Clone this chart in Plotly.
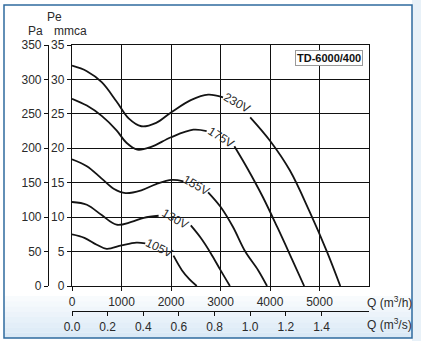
import plotly.graph_objects as go

W, H = 421, 341

# Fan curves: airflow Q (m3/h) vs static pressure Pe (mmca); None marks the gap under each label
Q_230 = [0, 300, 600, 900, 1150, 1400, 1700, 2000, 2400, 2750, 3050, None, 3600, 4000, 4400, 4800, 5150, 5420]
P_230 = [32.0, 31.2, 29.6, 26.8, 24.3, 23.2, 23.7, 25.2, 27.0, 27.8, 27.4, None, 24.5, 21.1, 16.8, 10.8, 5.0, 0]

Q_175 = [0, 300, 600, 900, 1100, 1320, 1600, 2000, 2450, 2720, None, 3280, 3550, 3850, 4150, 4450, 4690]
P_175 = [27.2, 26.2, 24.7, 22.6, 20.8, 19.8, 20.2, 21.6, 22.7, 22.5, None, 20.3, 17.0, 13.0, 8.5, 3.8, 0]

Q_155 = [0, 300, 600, 850, 1080, 1400, 1700, 2020, 2250, None, 2750, 3000, 3250, 3500, 3760, 3940]
P_155 = [18.4, 17.4, 15.6, 14.1, 13.5, 13.9, 14.8, 15.4, 15.2, None, 13.6, 11.5, 8.6, 5.0, 2.3, 0]

Q_130 = [0, 300, 600, 900, 1200, 1450, 1750, None, 2400, 2600, 2800, 3000, 3190]
P_130 = [12.2, 11.8, 10.3, 8.9, 9.3, 9.9, 10.2, None, 8.8, 7.0, 4.8, 2.3, 0]

Q_105 = [0, 250, 500, 700, 1000, 1300, 1480, None, 2050, 2220, 2370, 2520]
P_105 = [7.5, 7.0, 6.0, 5.4, 5.9, 6.3, 6.2, None, 4.4, 2.3, 1.0, 0]

CURVES = [("230V", Q_230, P_230), ("175V", Q_175, P_175), ("155V", Q_155, P_155),
          ("130V", Q_130, P_130), ("105V", Q_105, P_105)]

# Curve labels: (text, Q, Pe, angle)
LABELS = [("230V", 3340, 26.6, 29), ("175V", 3000, 21.6, 32), ("155V", 2500, 14.6, 30),
          ("130V", 2090, 9.7, 30), ("105V", 1760, 5.5, 26)]

Q_TICKS = [0, 1000, 2000, 3000, 4000, 5000]
QS_TICKS = [0.0, 0.2, 0.4, 0.6, 0.8, 1.0, 1.2, 1.4]
MMCA_TICKS = [0, 5, 10, 15, 20, 25, 30, 35]
PA_TICKS = [0, 50, 100, 150, 200, 250, 300, 350]

MODEL = "TD-6000/400"

FONT = "Liberation Sans, Arial, sans-serif"
TXT = "#2a2a2a"


def fx(p):
    return p / W


def fy(p):
    return 1 - p / H


fig = go.Figure()

for name, q, p in CURVES:
    fig.add_trace(go.Scatter(
        x=q, y=p, mode="lines", name=name, connectgaps=False,
        line=dict(color="#141414", width=1.8, shape="spline", smoothing=1.0),
        showlegend=False, hoverinfo="skip"))

# helper trace so the secondary axes are drawn
fig.add_trace(go.Scatter(x=[0], y=[0], xaxis="x2", yaxis="y2", mode="markers",
                         marker=dict(opacity=0), showlegend=False, hoverinfo="skip"))

xdom = [fx(72), fx(369)]
ydom = [fy(286), fy(45)]

axis_font = dict(family=FONT, size=12, color=TXT)
common = dict(automargin=False, zeroline=False, ticks="outside", ticklen=4,
              tickcolor="#111", tickwidth=1.2, tickfont=axis_font)

fig.update_layout(
    width=W, height=H,
    margin=dict(l=0, r=0, t=0, b=0, pad=0, autoexpand=False),
    paper_bgcolor="white", plot_bgcolor="white",
    font=dict(family=FONT, size=12, color=TXT),
    xaxis=dict(domain=xdom, range=[0, 6000], tickvals=Q_TICKS,
               ticktext=[str(v) for v in Q_TICKS],
               showgrid=True, gridcolor="#111", gridwidth=1.4,
               showline=True, linecolor="#111", linewidth=1.4, mirror=True,
               anchor="y", **common),
    yaxis=dict(domain=ydom, range=[0, 35], tickvals=MMCA_TICKS,
               showgrid=True, gridcolor="#111", gridwidth=1.4,
               showline=True, linecolor="#111", linewidth=1.4, mirror=True,
               anchor="x", **common),
    xaxis2=dict(overlaying="x", anchor="free", position=fy(311), side="bottom",
                range=[0, 6000 / 3600], tickvals=QS_TICKS,
                ticktext=[f"{v:.1f}" for v in QS_TICKS],
                showgrid=False, showline=True, linecolor="#111", linewidth=1.2,
                **common),
    yaxis2=dict(overlaying="y", anchor="free", position=fx(48), side="left",
                range=[0, 350], tickvals=PA_TICKS,
                showgrid=False, showline=True, linecolor="#111", linewidth=1.2,
                **common),
)


def note(x, y, text, xref="paper", yref="paper", **kw):
    base = dict(x=x, y=y, xref=xref, yref=yref, text=text, showarrow=False,
                xanchor="center", yanchor="middle",
                font=dict(family=FONT, size=12, color=TXT))
    base.update(kw)
    return base


annotations = [note(q, p, text, "x", "y", textangle=ang) for text, q, p, ang in LABELS]

# axis titles and model tag
annotations += [
    note(fx(389), fy(302), "Q (m<sup>3</sup>/h)"),
    note(fx(389), fy(324), "Q (m<sup>3</sup>/s)"),
    note(fx(35), fy(31), "Pa"),
    note(fx(55), fy(17), "Pe"),
    note(fx(70), fy(31), "mmca"),
    note(fx(329), fy(58), f"<b>{MODEL}</b>", bgcolor="white", bordercolor="#9a9a9a",
         borderwidth=1, borderpad=1, font=dict(family=FONT, size=11, color="#111")),
]
fig.update_layout(annotations=annotations)

# outer frame with a pale blue band along the bottom
shapes = []
band_top, band_bot = 296, 338
steps = 8
for i in range(steps):
    y0 = band_top + (band_bot - band_top) * i / steps
    y1 = band_top + (band_bot - band_top) * (i + 1) / steps
    shapes.append(dict(type="rect", xref="paper", yref="paper", layer="below",
                       x0=fx(4), x1=fx(412), y0=fy(y1), y1=fy(y0),
                       fillcolor="#c9dff1", opacity=0.12 + 0.08 * i, line=dict(width=0)))
shapes.append(dict(type="rect", xref="paper", yref="paper", layer="below",
                   x0=fx(412), x1=1, y0=0, y1=1, fillcolor="#e8f1f8", line=dict(width=0)))
shapes.append(dict(type="rect", xref="paper", yref="paper", layer="below",
                   x0=fx(4), x1=fx(412), y0=fy(338), y1=fy(5),
                   fillcolor="rgba(0,0,0,0)", line=dict(color="#2f6b9e", width=1.5)))
fig.update_layout(shapes=shapes)

fig.write_html("out.html")
